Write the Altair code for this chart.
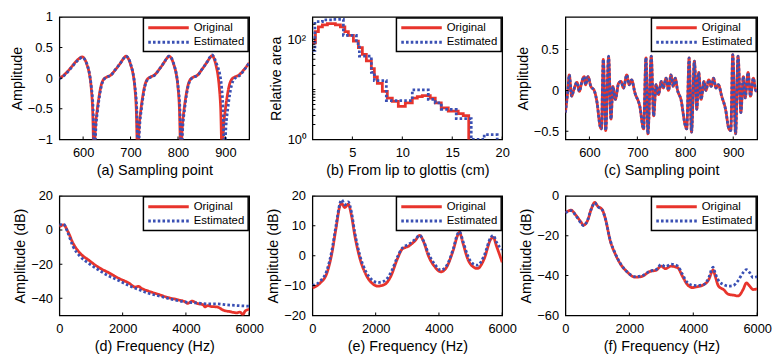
import altair as alt
import pandas as pd

FONT = "Liberation Sans"
RED = "#e8342c"
BLUE = "#3a50b4"
SERIES = ["Original", "Estimated"]

# ---------- (a) waveform ----------
xa_o = [550, 558, 566, 576, 586, 593, 598, 604, 609, 613, 617, 620, 623, 626, 630, 634, 638, 643, 650, 658,
        668, 678, 685, 690, 696, 701, 705, 709, 712, 715, 718, 722, 726, 730, 735, 742, 750, 760, 770, 776,
        781, 787, 792, 796, 800, 803, 806, 809, 813, 817, 821, 826, 833, 841, 851, 861, 867, 872, 877, 881,
        884, 887, 890, 893, 896, 900, 904, 908, 913, 920, 928, 938, 950]
ya_o = [0.0, 0.04, 0.1, 0.19, 0.28, 0.33, 0.35, 0.30, 0.20, 0.08, -0.15, -0.5, -1.3, -0.8, -0.5, -0.28, -0.12, -0.02, 0.02, 0.05,
        0.14, 0.24, 0.32, 0.36, 0.31, 0.2, 0.08, -0.15, -0.5, -1.3, -0.8, -0.5, -0.28, -0.12, -0.02, 0.02, 0.05, 0.14, 0.25, 0.32,
        0.36, 0.31, 0.2, 0.08, -0.15, -0.5, -1.3, -0.8, -0.5, -0.28, -0.12, -0.02, 0.02, 0.05, 0.15, 0.26, 0.33, 0.37, 0.3, 0.18,
        0.06, -0.15, -0.5, -1.3, -0.8, -0.5, -0.28, -0.12, -0.02, 0.02, 0.05, 0.13, 0.25]
xa_e = [550, 558, 566, 576, 586, 593, 598, 604, 609, 613, 617, 621, 624, 627, 631, 635, 639, 644, 651, 659,
        668, 678, 685, 690, 696, 701, 705, 709, 713, 716, 719, 723, 727, 731, 736, 743, 751, 760, 770, 776,
        781, 787, 792, 796, 800, 804, 807, 810, 814, 818, 822, 827, 834, 842, 851, 861, 867, 872, 877, 883,
        888, 892, 895, 898, 901, 905, 909, 913, 918, 924, 931, 940, 950]
ya_e = [-0.01, 0.03, 0.09, 0.18, 0.27, 0.32, 0.34, 0.30, 0.21, 0.09, -0.12, -0.5, -1.3, -0.8, -0.5, -0.27, -0.11, -0.02, 0.02, 0.05,
        0.14, 0.24, 0.32, 0.36, 0.32, 0.21, 0.09, -0.12, -0.5, -1.3, -0.8, -0.5, -0.27, -0.11, -0.02, 0.02, 0.05, 0.14, 0.25, 0.32,
        0.36, 0.32, 0.21, 0.09, -0.12, -0.5, -1.3, -0.8, -0.5, -0.27, -0.11, -0.02, 0.02, 0.05, 0.15, 0.26, 0.34, 0.38, 0.32, 0.2,
        0.07, -0.15, -0.5, -1.3, -0.8, -0.5, -0.27, -0.11, -0.02, 0.02, 0.05, 0.14, 0.25]

# ---------- (b) area function (step) ----------
xb_o = [1.0, 1.3, 1.6, 2.0, 2.5, 3.3, 3.8, 4.25, 4.6, 5.1, 5.6, 6.0, 6.4, 6.9, 7.2, 7.5, 8.0, 8.5, 9.0, 9.6,
        10.3, 11.0, 11.5, 12.0, 12.8, 13.3, 13.9, 14.6, 15.6, 16.1, 16.65, 20.0]
yb_o = [85, 143, 178, 195, 207, 195, 178, 143, 120, 92, 68, 50, 37, 26, 17.7, 13.2, 9.1, 6.7, 5.8, 4.6,
        5.4, 6.7, 7.2, 7.5, 6.7, 5.4, 4.3, 3.7, 3.3, 3.0, 0.5, 0.5]
xb_e = [1.0, 1.25, 2.0, 3.0, 4.1, 5.4, 5.7, 6.9, 7.2, 8.4, 11.0, 12.6, 13.3, 13.9, 15.4, 16.9, 18.2, 19.5, 20.0]
yb_e = [60, 225, 245, 250, 120, 82, 46, 22, 15, 6.0, 9.8, 6.3, 5.4, 4.0, 2.6, 1.0, 1.25, 0.6, 0.6]

# ---------- (c) waveform ----------
xc = [550, 555, 558, 563, 567, 574, 579, 584, 589, 592, 597, 603, 610, 616, 622, 625, 629, 634, 640, 645,
      649, 654, 661, 666, 671, 678, 683, 688, 695, 705, 713, 718, 722, 729, 734, 739, 744, 750, 754, 760,
      765, 770, 775, 779, 784, 791, 800, 803, 808, 813, 819, 824, 828, 833, 839, 843, 849, 854, 859, 864,
      869, 876, 884, 891, 895, 899, 905, 910, 916, 921, 925, 931, 936, 942, 947, 950]
yc_o = [-0.27, 0.0, 0.19, -0.07, 0.0, 0.1, -0.01, 0.1, 0.17, 0.07, 0.17, 0.05, 0.0, -0.15, -0.43, -0.47, 0.38, -0.49, 0.41, -0.35,
        0.05, -0.11, 0.09, 0.11, 0.03, 0.19, 0.07, 0.13, -0.03, -0.19, -0.47, 0.4, -0.53, 0.42, -0.31, 0.07, -0.05, 0.11, 0.03, 0.15,
        0.0, 0.19, 0.05, 0.15, 0.0, -0.11, -0.43, -0.47, 0.4, -0.51, 0.36, -0.23, 0.22, -0.11, 0.11, 0.0, 0.13, 0.05, 0.15, 0.03,
        0.07, -0.07, -0.23, -0.47, -0.49, 0.44, -0.53, 0.42, -0.27, 0.17, -0.09, 0.22, -0.07, 0.15, 0.0, -0.01]
yc_e = [-0.27, 0.0, 0.19, -0.07, 0.0, 0.1, -0.01, 0.1, 0.17, 0.07, 0.17, 0.05, 0.0, -0.15, -0.43, -0.47, 0.38, -0.49, 0.42, -0.35,
        0.05, -0.11, 0.09, 0.11, 0.03, 0.19, 0.07, 0.13, -0.03, -0.19, -0.47, 0.4, -0.53, 0.42, -0.31, 0.07, -0.05, 0.11, 0.03, 0.15,
        0.0, 0.19, 0.05, 0.15, 0.0, -0.11, -0.43, -0.47, 0.4, -0.51, 0.36, -0.23, 0.22, -0.11, 0.11, 0.0, 0.13, 0.05, 0.15, 0.03,
        0.07, -0.07, -0.23, -0.47, -0.49, 0.44, -0.53, 0.42, -0.27, 0.17, -0.09, 0.22, -0.07, 0.15, 0.0, -0.01]

# ---------- (d) spectrum ----------
fd_o = [0, 130, 270, 425, 630, 940, 1250, 1560, 1870, 2190, 2400, 2500, 2600, 2810, 3120, 3430, 3740, 4000, 4050, 4200,
        4360, 4550, 4600, 4700, 4800, 4980, 5190, 5400, 5500, 5600, 5710, 5800, 5870, 6000]
ad_o = [1.9, 3.0, -0.9, -7.5, -13.1, -17.8, -22.0, -25.0, -28.2, -31.0, -33.4, -33.0, -34.2, -35.7, -37.6, -39.5, -40.8, -42.3, -43.0, -41.6,
        -43.0, -43.8, -45.0, -44.2, -44.8, -45.0, -47.0, -47.8, -48.2, -48.5, -48.0, -49.5, -47.5, -46.4]
fd_e = [0, 130, 270, 425, 630, 940, 1250, 1560, 1870, 2190, 2500, 2810, 3120, 3430, 3740, 4050, 4360, 4670, 4980, 5290, 5600, 6000]
ad_e = [2.9, 3.5, -1.8, -9.4, -15.0, -19.7, -23.5, -26.9, -29.5, -32.5, -34.8, -37.0, -38.5, -40.0, -41.3, -42.3, -42.7, -43.2, -43.2, -43.8, -44.2, -44.6]

# ---------- (e) spectrum ----------
fe = [0, 250, 455, 610, 745, 870, 920, 1025, 1130, 1235, 1335, 1490, 1700, 1905, 2060, 2270, 2475, 2685, 2840, 3045,
      3255, 3390, 3510, 3665, 3875, 4060, 4235, 4445, 4600, 4650, 4755, 4910, 5120, 5220, 5430, 5635, 5720, 5820, 6000]
ae_o = [-10.8, -9.1, -5.9, 0.5, 9.1, 16.7, 17.5, 16.1, 17.2, 13.4, 7.0, -0.5, -6.5, -9.4, -10.2, -9.7, -7.0, -1.1, 2.2, 3.2,
        5.1, 6.8, 4.8, 0.0, -3.8, -5.4, -4.0, 1.6, 7.0, 7.8, 4.3, -1.1, -4.0, -4.3, -1.1, 5.4, 6.1, 3.2, -2.2]
ae_e = [-10.0, -8.5, -5.0, 1.5, 10.0, 17.5, 18.7, 17.0, 18.0, 14.5, 8.0, 0.5, -5.5, -8.3, -9.0, -8.5, -5.8, -0.5, 2.5, 3.8,
        5.5, 6.8, 5.0, 0.8, -3.0, -4.8, -3.5, 2.0, 7.5, 8.0, 5.0, 0.0, -3.0, -3.2, 0.0, 6.0, 6.8, 4.5, 2.0]

# ---------- (f) spectrum ----------
ff = [0, 175, 330, 480, 565, 685, 810, 915, 1015, 1150, 1250, 1405, 1560, 1715, 1920, 2175, 2380, 2635, 2840, 2995,
      3130, 3305, 3510, 3665, 3815, 3970, 4125, 4330, 4485, 4585, 4620, 4690, 4790, 4945, 5100, 5255, 5405, 5560, 5665, 5765,
      5870, 6000]
af_o = [-8.5, -7.2, -9.8, -13.0, -14.7, -12.7, -6.6, -3.3, -5.3, -6.9, -11.5, -22.7, -29.2, -34.0, -38.0, -40.8, -40.5, -38.0, -37.3, -35.3,
        -36.5, -35.3, -36.0, -40.5, -44.5, -46.0, -45.6, -44.5, -42.0, -38.0, -37.2, -40.5, -45.3, -47.0, -49.4, -49.8, -50.2, -47.0, -43.7, -45.3,
        -47.0, -46.6]
af_e = [-8.5, -7.4, -10.0, -13.5, -15.0, -12.5, -6.5, -3.5, -5.5, -7.0, -11.5, -22.5, -29.0, -33.8, -38.0, -40.5, -40.2, -37.8, -37.0, -34.5,
        -35.5, -34.3, -35.2, -39.5, -43.5, -44.8, -45.0, -44.5, -41.0, -36.5, -35.8, -39.0, -42.5, -44.5, -45.3, -45.0, -42.5, -38.5, -37.0, -38.5,
        -41.0, -40.5]

# axis ticks
x_samp = [600, 700, 800, 900]
x_cm = [5, 10, 15, 20]
x_hz = [0, 2000, 4000, 6000]
y_a = [-1, -0.5, 0, 0.5, 1]
y_b = [1, 100]
y_b_ticks = [1, 2, 3, 4, 5, 6, 7, 8, 9, 10, 20, 30, 40, 50, 60, 70, 80, 90, 100, 200]
y_c = [-0.5, 0, 0.5]
y_d = [-40, -20, 0, 20]
y_e = [-20, -10, 0, 10, 20]
y_f = [-60, -40, -20, 0]

NUMFMT = ".6~g"


def panel(xo, yo, xe, ye, xdom, ydom, xvals, yvals, xtitle, ytitle, w, h,
          ylog=False, ytickvals=None, interp="monotone", ylabelexpr=None):
    df = pd.DataFrame({
        "x": list(xo) + list(xe),
        "y": list(yo) + list(ye),
        "s": ["Original"] * len(xo) + ["Estimated"] * len(xe),
    })
    xs = alt.Scale(domain=xdom, nice=False, zero=False)
    if ylog:
        ys = alt.Scale(type="log", domain=ydom, nice=False)
    else:
        ys = alt.Scale(domain=ydom, nice=False, zero=False)
    ykw = dict(values=yvals, title=ytitle)
    if ylabelexpr:
        ykw["labelExpr"] = ylabelexpr
    else:
        ykw["format"] = NUMFMT
    xaxis = alt.Axis(values=xvals, title=xtitle, format=NUMFMT)
    yaxis = alt.Axis(**ykw)
    color = alt.Color("s:N", scale=alt.Scale(domain=SERIES, range=[RED, BLUE]),
                      legend=alt.Legend(title=None))
    dash = alt.StrokeDash("s:N", scale=alt.Scale(domain=SERIES, range=[[1, 0], [2.6, 2.2]]),
                          legend=alt.Legend(title=None))
    layers = []
    for s in SERIES:
        layers.append(
            alt.Chart(df).transform_filter(alt.datum.s == s)
            .mark_line(clip=True, strokeWidth=2.8, interpolate=interp)
            .encode(
                x=alt.X("x:Q", scale=xs, axis=xaxis),
                y=alt.Y("y:Q", scale=ys, axis=yaxis),
                color=color,
                strokeDash=dash,
            )
        )
    xt = pd.DataFrame({"x": xvals})
    layers.append(
        alt.Chart(xt).mark_tick(clip=True, orient="vertical", size=6, thickness=1, color="black", opacity=1)
        .encode(x=alt.X("x:Q", scale=xs, axis=xaxis), y=alt.YDatum(ydom[0], scale=ys, axis=yaxis))
    )
    yt = pd.DataFrame({"y": ytickvals if ytickvals else yvals})
    layers.append(
        alt.Chart(yt).mark_tick(clip=True, orient="horizontal", size=6, thickness=1, color="black", opacity=1)
        .encode(x=alt.XDatum(xdom[0], scale=xs, axis=xaxis), y=alt.Y("y:Q", scale=ys, axis=yaxis))
    )
    return alt.layer(*layers).properties(width=w, height=h)


H1, H2 = 124, 121
pa = panel(xa_o, ya_o, xa_e, ya_e, [550, 950], [-1, 1], x_samp, y_a,
           "(a) Sampling point", "Amplitude", 192, H1)
pb = panel(xb_o, yb_o, xb_e, yb_e, [1, 20], [1, 280], x_cm, y_b,
           "(b) From lip to glottis (cm)", "Relative area", 192, H1,
           ylog=True, ytickvals=y_b_ticks, interp="step-after",
           ylabelexpr="datum.value == 100 ? '10²' : (datum.value == 1 ? '10⁰' : '')")
pc = panel(xc, yc_o, xc, yc_e, [550, 950], [-0.6, 0.9], x_samp, y_c,
           "(c) Sampling point", "Amplitude", 194, H1)
pd_ = panel(fd_o, ad_o, fd_e, ad_e, [0, 6000], [-50, 20], x_hz, y_d,
            "(d) Frequency (Hz)", "Amplitude (dB)", 192, H2)
pe = panel(fe, ae_o, fe, ae_e, [0, 6000], [-20, 20], x_hz, y_e,
           "(e) Frequency (Hz)", "Amplitude (dB)", 192, H2)
pf = panel(ff, af_o, ff, af_e, [0, 6000], [-60, 0], x_hz, y_f,
           "(f) Frequency (Hz)", "Amplitude (dB)", 194, H2)

chart = (
    alt.concat(pa, pb, pc, pd_, pe, pf, columns=3,
               spacing={"row": 57, "column": 64}, bounds="flush")
    .resolve_scale(x="independent", y="independent", color="independent", strokeDash="independent")
    .properties(padding=0)
    .configure(font=FONT)
    .configure_view(stroke="black", strokeWidth=1.3)
    .configure_axis(grid=False, domain=False, ticks=False, tickSize=0,
                    labelFontSize=13, titleFontSize=14.5, titleFontWeight="normal",
                    labelColor="black", titleColor="black", labelFont=FONT, titleFont=FONT,
                    labelFlush=False, labelOverlap=False)
    .configure_axisX(labelPadding=7, titlePadding=4)
    .configure_axisY(labelPadding=7, titlePadding=3)
    .configure_legend(orient="top-right", offset=1, fillColor="white", strokeColor="black",
                      strokeWidth=1.5, padding=3, labelFontSize=11.5, labelFont=FONT,
                      labelColor="black", symbolType="M-4,0L4,0", symbolSize=105,
                      symbolStrokeWidth=3, symbolOffset=15.4, labelOffset=18.5, rowPadding=1.5)
)

chart.save("out.html", embed_options={"renderer": "svg", "actions": False})
